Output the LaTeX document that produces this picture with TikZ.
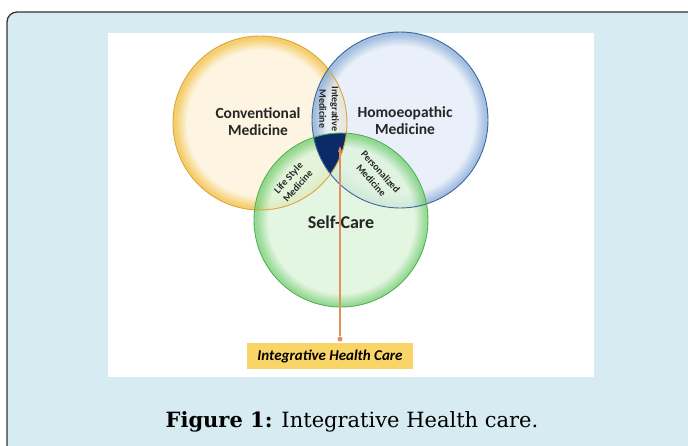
\documentclass[tikz,border=0pt]{standalone}
\usepackage{fontspec}
\setmainfont{Carlito}
\newfontfamily\capfont{DejaVu Serif}
\usetikzlibrary{arrows.meta}
\definecolor{bgblue}{HTML}{D7ECF2}
\definecolor{ypale}{HTML}{FDF3DA}
\definecolor{ysat}{HTML}{F3C24A}
\definecolor{yline}{HTML}{D9A83A}
\definecolor{bpale}{HTML}{E5EDF8}
\definecolor{bsat}{HTML}{8EAFDB}
\definecolor{bline}{HTML}{3A6899}
\definecolor{gpale}{HTML}{DDF4DA}
\definecolor{gsat}{HTML}{7ED17B}
\definecolor{gline}{HTML}{54B054}
\definecolor{navy}{HTML}{0B2A68}
\definecolor{arrowc}{HTML}{E0905A}
\definecolor{boxy}{HTML}{F9D466}
\pgfdeclareradialshading{yshade}{\pgfpoint{0bp}{0bp}}{color(0bp)=(ypale); color(21bp)=(ypale); color(24.3bp)=(ysat); color(25bp)=(ysat); color(50bp)=(ysat)}
\pgfdeclareradialshading{bshade}{\pgfpoint{0bp}{0bp}}{color(0bp)=(bpale); color(21bp)=(bpale); color(24.3bp)=(bsat); color(25bp)=(bsat); color(50bp)=(bsat)}
\pgfdeclareradialshading{gshade}{\pgfpoint{0bp}{0bp}}{color(0bp)=(gpale); color(21bp)=(gpale); color(24.3bp)=(gsat); color(25bp)=(gsat); color(50bp)=(gsat)}
\tikzset{
  bigtxt/.style={font=\fontsize{15.5}{17}\selectfont\bfseries, text=black!85, align=center, inner sep=0},
  smalltxt/.style={font=\fontsize{10}{12.5}\selectfont\bfseries, text=black!85, align=center, inner sep=0},
  circ/.style={fill opacity=0.8},
}
\begin{document}
\begin{tikzpicture}[x=1pt,y=-1pt]
\useasboundingbox (0,0) rectangle (688,445);
\begin{scope}
\clip (0,0) rectangle (688,445);
\draw[fill=bgblue, draw=black!80, line width=1.3, rounded corners=10] (7,12) rectangle (700,470);
\end{scope}
\fill[white] (108,33) rectangle (594,377);
% circles
\shade[shading=yshade, circ] (260,123) circle (87);
\shade[shading=bshade, circ] (400,120) circle (88);
\shade[shading=gshade, circ] (341,220) circle (87);
\begin{scope}
\clip (260,123) circle (87);
\clip (400,120) circle (88);
\fill[navy] (341,220) circle (87);
\end{scope}
\draw[yline, line width=0.9] (260,123) circle (87);
\draw[bline, line width=0.9] (400,120) circle (88);
\draw[gline, line width=0.9] (341,220) circle (87);
% labels
\node[bigtxt] (conv) at (258,122) {Conventional\\Medicine};
\node[bigtxt] (homo) at (405,121) {Homoeopathic\\Medicine};
\node[bigtxt, font=\fontsize{18}{20}\selectfont\bfseries] (self) at (341,222) {Self-Care};
\node[smalltxt, rotate=-90] (integ) at (329,109) {Integrative\\Medicine};
\node[smalltxt, rotate=48] (life) at (293,182) {Life Style\\Medicine};
\node[smalltxt, rotate=-48] (pers) at (376,176) {Personalized\\Medicine};
% box and arrow
\node[fill=boxy, minimum width=166, minimum height=26, inner sep=0,
      font=\fontsize{15}{16}\selectfont\bfseries\itshape] (ihc) at (330,356) {Integrative Health Care};
\node[circle, fill=arrowc, inner sep=0, minimum size=5] (dot) at (340,339) {};
\coordinate (tip) at (340,146);
\draw[arrowc, line width=1.1, -{Stealth[length=6, width=4]}] (dot) -- (tip);
% caption
\node[font=\capfont\fontsize{21}{24}\selectfont, inner sep=0] (cap) at (352,422) {\textbf{Figure 1:} Integrative Health care.};
\end{tikzpicture}
\end{document}
